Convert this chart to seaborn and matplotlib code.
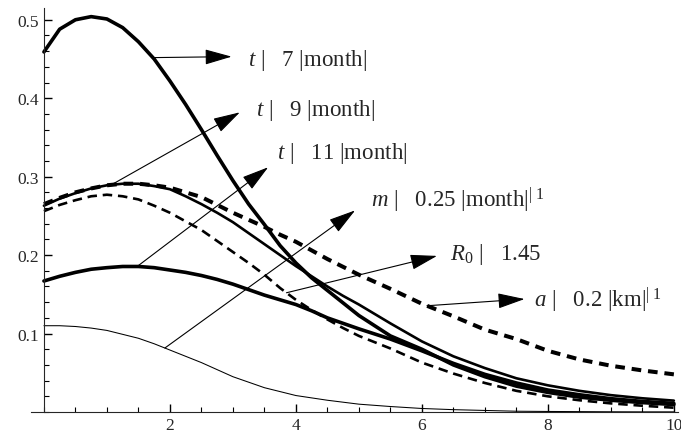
import numpy as np
import pandas as pd
import matplotlib
matplotlib.use('Agg')
import matplotlib.pyplot as plt
import seaborn as sns
from matplotlib.ticker import MultipleLocator, FormatStrFormatter

# distance (km): quarter steps up to 5, half steps after
x_km = [0, 0.25, 0.5, 0.75, 1, 1.25, 1.5, 1.75, 2, 2.25, 2.5, 2.75, 3, 3.25, 3.5, 3.75,
        4, 4.25, 4.5, 4.75, 5, 5.5, 6, 6.5, 7, 7.5, 8, 8.5, 9, 9.5, 10]

# values
t7 = [0.459, 0.488, 0.500, 0.504, 0.501, 0.490, 0.472, 0.450, 0.422, 0.392, 0.360,
      0.327, 0.295, 0.265, 0.239, 0.212, 0.190, 0.171, 0.155, 0.139, 0.123,
      0.097, 0.080, 0.060, 0.045, 0.033, 0.025, 0.019, 0.015, 0.012, 0.0095]
t9 = [0.263, 0.272, 0.279, 0.285, 0.289, 0.291, 0.291, 0.288, 0.284, 0.275, 0.265,
      0.254, 0.242, 0.228, 0.214, 0.200, 0.186, 0.173, 0.160, 0.148, 0.137,
      0.113, 0.090, 0.071, 0.056, 0.043, 0.034, 0.027, 0.0215, 0.0175, 0.0145]
t11 = [0.167, 0.173, 0.178, 0.182, 0.184, 0.1855, 0.1855, 0.184, 0.181, 0.178, 0.174,
       0.169, 0.163, 0.156, 0.149, 0.143, 0.137, 0.129, 0.120, 0.113, 0.106,
       0.093, 0.078, 0.062, 0.048, 0.037, 0.028, 0.022, 0.017, 0.0135, 0.011]
m025 = [0.110, 0.110, 0.109, 0.107, 0.104, 0.099, 0.094, 0.087, 0.079, 0.071, 0.063,
        0.054, 0.045, 0.038, 0.031, 0.026, 0.021, 0.018, 0.015, 0.0125, 0.010,
        0.007, 0.0045, 0.003, 0.002, 0.001, 0.0007, 0.0005, 0.0003, 0.0002, 0.0002]
r0_145 = [0.256, 0.264, 0.270, 0.275, 0.277, 0.275, 0.271, 0.263, 0.254, 0.243, 0.232,
          0.218, 0.204, 0.190, 0.175, 0.158, 0.143, 0.130, 0.118, 0.107, 0.097,
          0.081, 0.063, 0.049, 0.037, 0.027, 0.020, 0.015, 0.011, 0.008, 0.0055]
a02 = [0.265, 0.273, 0.280, 0.285, 0.289, 0.291, 0.291, 0.289, 0.286, 0.280, 0.274,
       0.264, 0.254, 0.245, 0.236, 0.226, 0.217, 0.206, 0.195, 0.185, 0.175,
       0.157, 0.138, 0.122, 0.105, 0.093, 0.078, 0.067, 0.059, 0.053, 0.048]

labels = ["$t$ |   7 |month|",
          "$t$ |   9 |month|",
          "$t$ |   11 |month|",
          "$m$ |   0.25 |month$|^{|\\ 1}$",
          "$R_0$ |   1.45",
          "$a$ |   0.2 |km$|^{|\\ 1}$"]

sns.set_style('ticks')
plt.rcParams.update({
    'font.family': ['Liberation Serif', 'DejaVu Serif'],
    'mathtext.fontset': 'custom',
    'mathtext.rm': 'Liberation Serif',
    'mathtext.it': 'Liberation Serif:italic',
})

fig = plt.figure(figsize=(6.81, 4.39), dpi=100)
ax = fig.add_axes([0.046, 0.0592, 0.95, 0.9203])

curves = [
    (t7, 2.6, None),
    (t9, 1.9, None),
    (t11, 2.6, None),
    (m025, 0.75, None),
    (r0_145, 1.9, (3.6, 2.2)),
    (a02, 2.9, (2.4, 1.7)),
]
for ys, lw, dash in curves:
    sns.lineplot(x=x_km, y=ys, ax=ax, color='black', linewidth=lw)
    if dash is not None:
        ax.lines[-1].set_dashes(dash)

ax.set_xlim(-0.2, 10.07)
ax.set_ylim(0, 0.515)
ax.spines['left'].set_position(('data', 0))
ax.spines['top'].set_visible(False)
ax.spines['right'].set_visible(False)

ax.set_xticks([2, 4, 6, 8, 10])
ax.set_yticks([0.1, 0.2, 0.3, 0.4, 0.5])
ax.xaxis.set_minor_locator(MultipleLocator(0.5))
ax.yaxis.set_minor_locator(MultipleLocator(0.02))
ax.xaxis.set_major_formatter(FormatStrFormatter('%d'))
ax.yaxis.set_major_formatter(FormatStrFormatter('%.1f'))
ax.tick_params(which='both', direction='in', bottom=True, left=True, color='black')
ax.tick_params(which='major', length=6, width=1.0, labelsize=12.5)
ax.tick_params(which='minor', length=3.5, width=0.8)
ax.xaxis.get_major_ticks()
ax.yaxis.get_major_ticks()

# arrows: start on a curve, tip near the label
arrow_from = [(1.73, t7), (1.07, t9), (1.48, t11), (1.92, m025), (3.85, r0_145), (6.08, a02)]
arrow_tip = [(2.98, 0.453), (3.11, 0.382), (3.56, 0.312), (4.94, 0.257), (6.24, 0.199), (7.63, 0.144)]
label_pos = [(3.24, 0.442), (3.37, 0.378), (3.70, 0.3236), (5.19, 0.262), (6.44, 0.195), (7.78, 0.135)]

for (xs, ys), tip, lpos, lab in zip(arrow_from, arrow_tip, label_pos, labels):
    y0 = np.interp(xs, x_km, ys)
    ax.annotate('', xy=tip, xytext=(xs, y0),
                arrowprops=dict(arrowstyle='-|>,head_length=1.05,head_width=0.3',
                                mutation_scale=16, lw=0.8, color='black',
                                shrinkA=0, shrinkB=0))
    ax.text(lpos[0], lpos[1], lab, fontsize=16.5, ha='left', va='baseline')

ax.set_xlabel('')
ax.set_ylabel('')

fig.savefig('out.png', dpi=100)
